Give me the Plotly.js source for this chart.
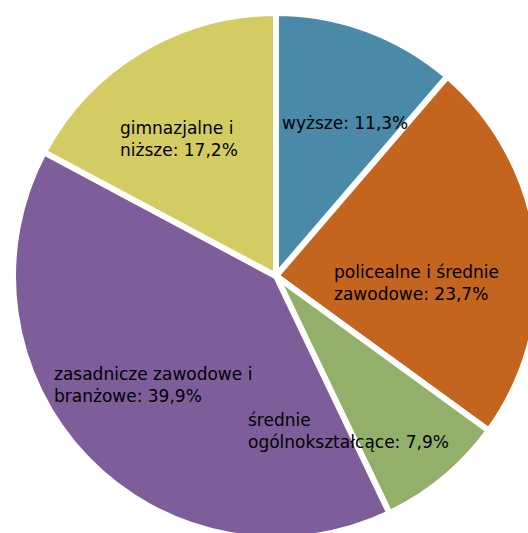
<!DOCTYPE html>
<html>
<head>
<meta charset="utf-8">
<script src="https://cdn.plot.ly/plotly-3.0.1.min.js"></script>
<style>
html, body { margin: 0; padding: 0; overflow: hidden; background: #fff; }
#chart { width: 552px; height: 552px; }
</style>
</head>
<body>
<div id="chart"></div>
<script>
// Education level categories (clockwise from 12 o'clock)
const categories = [
  "wyższe",
  "policealne i średnie<br>zawodowe",
  "średnie<br>ogólnokształcące",
  "zasadnicze zawodowe i<br>branżowe",
  "gimnazjalne i<br>niższe"
];
// Share in percent
const shares = [11.3, 23.7, 7.9, 39.9, 17.2];
const sliceColors = ["#4A89A7", "#C3641F", "#93B06A", "#7E5E9A", "#D3CC62"];

const W = 552, H = 552;
const cx = 276, cy = 276, r = 263;

// label anchor points in pixels (left edge, vertical middle), layout only
const labelAnchors = [[280, 123], [332, 283], [246, 431], [52, 385], [118, 139]];

function fmt(v) { return v.toFixed(1).replace(".", ","); }

const trace = {
  type: "pie",
  labels: categories,
  values: shares,
  sort: false,
  direction: "clockwise",
  rotation: 0,
  marker: { colors: sliceColors, line: { color: "#ffffff", width: 6 } },
  textinfo: "none",
  hoverinfo: "none",
  showlegend: false,
  domain: {
    x: [(cx - r) / W, (cx + r) / W],
    y: [1 - (cy + r) / H, 1 - (cy - r) / H]
  }
};

const annotations = categories.map((c, i) => ({
  xref: "paper", yref: "paper",
  x: labelAnchors[i][0] / W,
  y: 1 - labelAnchors[i][1] / H,
  xanchor: "left", yanchor: "middle", align: "left",
  showarrow: false,
  text: c + ": " + fmt(shares[i]) + "%",
  font: { family: "DejaVu Sans", size: 17, color: "#000000" }
}));

const layout = {
  width: W,
  height: H,
  margin: { l: 0, r: 0, t: 0, b: 0 },
  paper_bgcolor: "#ffffff",
  separators: ", ",
  annotations: annotations,
  showlegend: false
};

Plotly.newPlot("chart", [trace], layout, { staticPlot: true, displayModeBar: false });
</script>
</body>
</html>
